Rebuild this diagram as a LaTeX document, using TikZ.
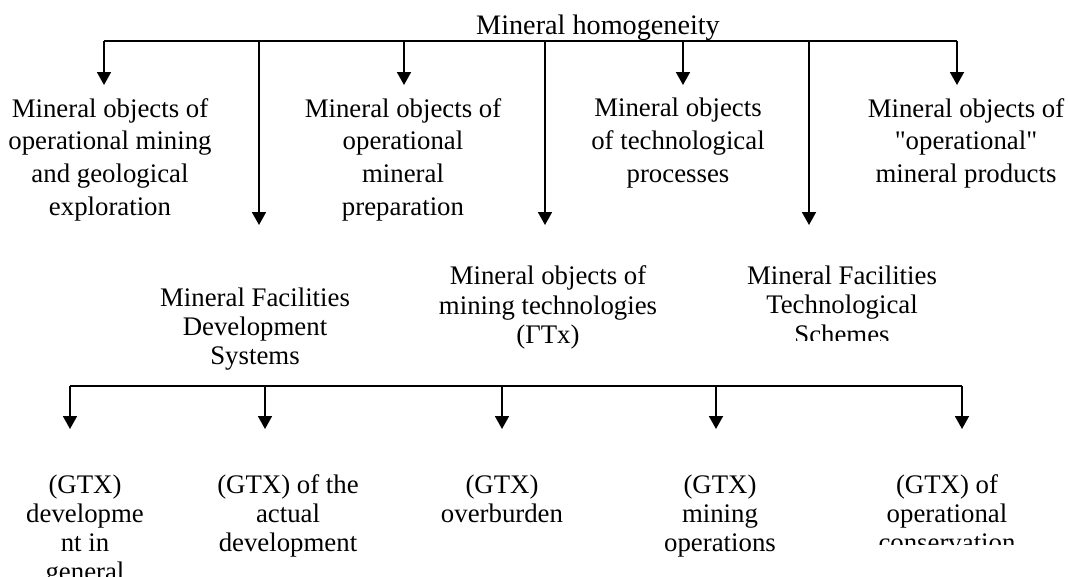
\documentclass[tikz,border=0pt]{standalone}
\usepackage{fontspec}
\setmainfont{Liberation Serif}[Ligatures=TeXOff]
\usetikzlibrary{arrows.meta}
\tikzset{
  lbl/.style={anchor=north,align=center,inner sep=0pt,font=\fontsize{26.8}{32.8}\selectfont},
  lblt/.style={anchor=north,align=center,inner sep=0pt,font=\fontsize{26.8}{29}\selectfont},
  lblm/.style={anchor=north,align=center,inner sep=0pt,font=\fontsize{26.8}{29.5}\selectfont},
  bus/.style={line width=1.8pt},
  arr/.style={line width=1.8pt,-{Triangle[width=14pt,length=13pt]}}
}
\begin{document}
\begin{tikzpicture}[x=1pt,y=-1pt]
\useasboundingbox (0,0) rectangle (1068,576);
% title
\node[anchor=base,inner sep=0pt,font=\fontsize{28.2}{32}\selectfont] (title) at (598,34) {Mineral homogeneity};
% upper row
\node[lbl] (A) at (110,98) {Mineral objects of\\operational mining\\and geological\\exploration};
\node[lbl] (B) at (403,98) {Mineral objects of\\operational\\mineral\\preparation};
\node[lbl] (C) at (678,98) {Mineral objects\\of technological\\processes};
\node[lbl] (D) at (966,98) {Mineral objects of\\"operational"\\mineral products};
% middle row
\node[lblt] (E) at (255,287.5) {Mineral Facilities\\Development\\Systems};
\node[lblm] (F) at (548,265.5) {Mineral objects of\\mining technologies\\(ΓTx)};
\begin{scope}
\clip (700,250) rectangle (1000,340);
\node[lblm] (G) at (842,265.5) {Mineral Facilities\\Technological\\Schemes};
\end{scope}
% lower row
\node[lblt] (H) at (85,474.5) {(GTX)\\developme\\nt in\\general};
\node[lblt] (I) at (288,474.5) {(GTX) of the\\actual\\development};
\node[lblt] (J) at (502,474.5) {(GTX)\\overburden};
\node[lblt] (K) at (720,474.5) {(GTX)\\mining\\operations};
\begin{scope}
\clip (820,460) rectangle (1068,544);
\node[lblt] (L) at (947,474.5) {(GTX) of\\operational\\conservation};
\end{scope}
% top bus
\coordinate (b1) at (104,41);
\coordinate (b2) at (259,41);
\coordinate (b3) at (404,41);
\coordinate (b4) at (545,41);
\coordinate (b5) at (683,41);
\coordinate (b6) at (809,41);
\coordinate (b7) at (957,41);
\draw[bus] (b1) -- (b7);
\coordinate (e1) at (104,85);
\coordinate (e2) at (259,225);
\coordinate (e3) at (404,85);
\coordinate (e4) at (545,225);
\coordinate (e5) at (683,85);
\coordinate (e6) at (809,225);
\coordinate (e7) at (957,85);
\foreach \i in {1,...,7} {\draw[arr] (b\i) -- (e\i);}
% lower bus
\coordinate (l1) at (70,386);
\coordinate (l2) at (265,386);
\coordinate (l3) at (502,386);
\coordinate (l4) at (716,386);
\coordinate (l5) at (962,386);
\draw[bus] (l1) -- (l5);
\coordinate (m1) at (70,429);
\coordinate (m2) at (265,429);
\coordinate (m3) at (502,429);
\coordinate (m4) at (716,429);
\coordinate (m5) at (962,429);
\foreach \i in {1,...,5} {\draw[arr] (l\i) -- (m\i);}
\end{tikzpicture}
\end{document}
